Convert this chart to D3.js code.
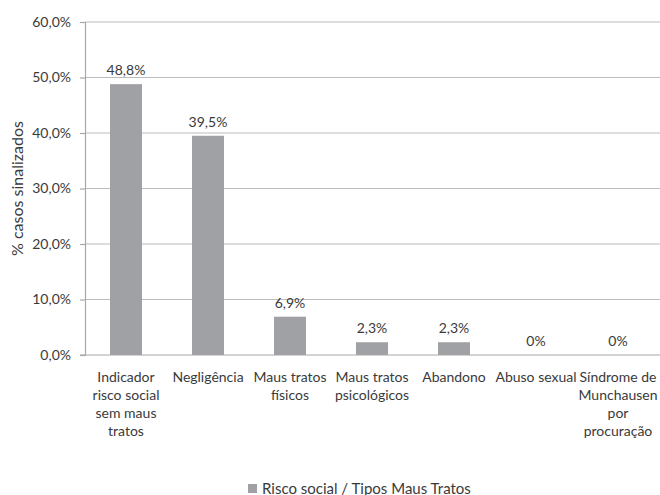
<!DOCTYPE html>
<html>
<head>
<meta charset="utf-8">
<script src="https://cdn.jsdelivr.net/npm/d3@7"></script>
<style>
  body { margin: 0; background: #fff; }
  svg text { font-family: Lato, "Open Sans", sans-serif; fill: #3a3a3a; }
</style>
</head>
<body>
<svg id="chart"></svg>
<script>
// data
const categories = [
  ['Indicador', 'risco social', 'sem maus', 'tratos'],
  ['Negligência'],
  ['Maus tratos', 'físicos'],
  ['Maus tratos', 'psicológicos'],
  ['Abandono'],
  ['Abuso sexual'],
  ['Síndrome de', 'Munchausen', 'por', 'procuração']
];
const values = [48.8, 39.5, 6.9, 2.3, 2.3, 0, 0];
const valueLabels = ['48,8%', '39,5%', '6,9%', '2,3%', '2,3%', '0%', '0%'];
const yTicks = [0, 10, 20, 30, 40, 50, 60];
const seriesName = 'Risco social / Tipos Maus Tratos';

const W = 660, H = 495;
const margin = {top: 22, right: 1, bottom: 140, left: 85};

const svg = d3.select('#chart').attr('width', W).attr('height', H);

const x = d3.scaleBand()
  .domain(d3.range(categories.length))
  .range([margin.left, W - margin.right])
  .paddingInner(0.61)
  .paddingOuter(0.305);

const y = d3.scaleLinear()
  .domain([0, 60])
  .range([H - margin.bottom, margin.top]);

// gridlines
svg.append('g')
  .selectAll('line')
  .data(yTicks.filter(d => d > 0)).enter()
  .append('line')
    .attr('x1', margin.left)
    .attr('x2', W)
    .attr('y1', d => y(d))
    .attr('y2', d => y(d))
    .attr('stroke', '#bcbcbc')
    .attr('stroke-width', 1.2);

// y axis
const yAxis = svg.append('g')
  .attr('transform', `translate(${margin.left},0)`)
  .call(d3.axisLeft(y).tickValues(yTicks).tickSize(5)
    .tickFormat(d => d3.format('.1f')(d).replace('.', ',') + '%'))
  .call(g => g.select('.domain').attr('stroke', '#a8a8a8').attr('stroke-width', 1.2));
yAxis.selectAll('.tick line').attr('stroke', '#a8a8a8').attr('stroke-width', 1.2);
yAxis.selectAll('.tick text')
  .attr('x', -14)
  .style('font-size', '14px')
  .style('font-family', 'Lato, sans-serif')
  .attr('fill', '#3a3a3a');

// bars
svg.append('g')
  .selectAll('rect')
  .data(values).enter()
  .append('rect')
    .attr('x', (d, i) => x(i))
    .attr('y', d => y(d))
    .attr('width', x.bandwidth())
    .attr('height', d => y(0) - y(d))
    .attr('fill', '#a0a1a4');

// baseline
svg.append('line')
  .attr('x1', margin.left - 5)
  .attr('x2', W)
  .attr('y1', y(0))
  .attr('y2', y(0))
  .attr('stroke', '#a8a8a8')
  .attr('stroke-width', 1.2);

// value labels
svg.append('g')
  .selectAll('text')
  .data(values).enter()
  .append('text')
    .attr('x', (d, i) => x(i) + x.bandwidth() / 2)
    .attr('y', d => y(d) - 9)
    .attr('text-anchor', 'middle')
    .style('font-size', '14px')
    .text((d, i) => valueLabels[i]);

// category labels
svg.append('g')
  .selectAll('text')
  .data(categories).enter()
  .append('text')
    .attr('x', (d, i) => x(i) + x.bandwidth() / 2)
    .attr('y', y(0) + 27)
    .attr('text-anchor', 'middle')
    .style('font-size', '14px')
    .call(t => t.selectAll('tspan')
      .data(d => d).enter()
      .append('tspan')
        .attr('x', function () { return this.parentNode.getAttribute('x'); })
        .attr('dy', (d, j) => j === 0 ? 0 : 18)
        .text(d => d));

// y title
svg.append('text')
  .attr('transform', `translate(23, ${y(30)}) rotate(-90)`)
  .attr('text-anchor', 'middle')
  .style('font-size', '16px')
  .text('% casos sinalizados');

// legend
const legend = svg.append('g').attr('transform', 'translate(248, 484)');
legend.append('rect')
  .attr('width', 9).attr('height', 9)
  .attr('fill', '#a0a1a4');
legend.append('text')
  .attr('x', 14)
  .attr('y', 9.5)
  .style('font-size', '15px')
  .text(seriesName);
</script>
</body>
</html>
